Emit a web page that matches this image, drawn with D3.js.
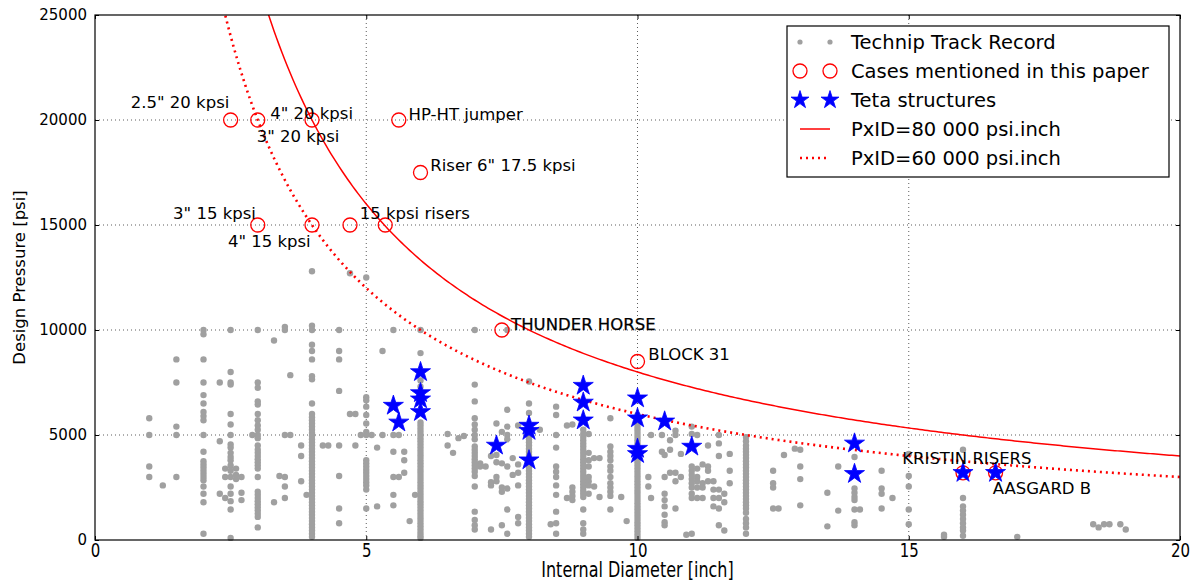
<!DOCTYPE html>
<html>
<head>
<meta charset="utf-8">
<script src="https://d3js.org/d3.v7.min.js"></script>
<style>
  body { margin: 0; background: #fff; }
  text { font-family: "DejaVu Sans", sans-serif; }
</style>
</head>
<body>
<div id="chart"></div>
<script>
// technip track record, grouped by internal diameter [inch] -> design pressures [psi]
var trackColumns = [
  [1.0, [5800, 5000, 3500, 3000]],
  [1.25, [2600]],
  [1.5, [8600, 7500, 5400, 5000, 3000]],
  [2.0, [10000, 9800, 8600, 7500, 6900, 6500, 6100, 5900, 5700, 5000, 4200, 3750, 3600, 3450, 3300, 3150, 3000, 2850, 2550, 2200, 1800, 300]],
  [2.3, [7500, 4700, 2200]],
  [2.4, [3400, 3000, 2000]],
  [2.5, [10000, 8000, 7500, 7400, 6000, 5500, 5000, 4550, 4400, 4150, 3950, 3800, 3550, 3300, 3000, 2550, 2200, 1850, 1450, 100]],
  [2.6, [3400, 3100, 2900]],
  [2.7, [3000, 2250, 1900]],
  [2.9, [5000]],
  [3.0, [10000, 7500, 7250, 6600, 6450, 6000, 5700, 5450, 5250, 5000, 4850, 4500, 4300, 4150, 4000, 3850, 3700, 3550, 3400, 3000, 2300, 2150, 2000, 1850, 1700, 1550, 1400, 1250, 1100, 600]],
  [3.3, [9500, 1800]],
  [3.4, [3050]],
  [3.5, [10150, 10000, 5000, 3000, 2550, 2000]],
  [3.6, [7850, 5000]],
  [3.8, [4500, 4000, 2800]],
  [3.9, [2150]],
  [4.0, [12800, 10200, 10000, 9300, 9000, 8600, 7800, 7650, 6500, 6000, 5850, 5700, 5550, 5400, 5250, 5100, 4950, 4800, 4650, 4500, 4350, 4200, 4050, 3900, 3750, 3600, 3450, 3300, 3150, 3000, 2850, 2700, 2550, 2400, 2250, 2100, 1950, 1800, 1650, 1500, 1350, 1200, 1050, 900, 750, 600, 450, 300, 150]],
  [4.2, [4500]],
  [4.3, [4500]],
  [4.5, [10000, 9000, 8600, 7100, 4500, 3050, 1500, 800]],
  [4.7, [12700, 6000]],
  [4.8, [6000, 4500]],
  [4.9, [5000]],
  [5.0, [12500, 6800, 6650, 6350, 5950, 5550, 5150, 5000, 3800, 3650, 3500, 3350, 3200, 3050, 2900, 2750, 2600, 2400, 1500]],
  [5.1, [5000]],
  [5.2, [4400, 1600]],
  [5.3, [9000, 5000]],
  [5.5, [10000, 5000, 4200, 3000, 2150, 1650]],
  [5.6, [5000, 3000]],
  [5.7, [4200, 3800, 3200]],
  [5.8, [900]],
  [5.9, [2150]],
  [6.0, [10000, 8900, 7600, 7300, 5600, 5450, 5300, 5150, 5000, 4850, 4700, 4550, 4400, 4250, 4100, 3950, 3800, 3650, 3500, 3350, 3200, 3050, 2900, 2750, 2600, 2450, 2300, 2150, 2000, 1850, 1700, 1550, 1400, 1250, 1100, 950, 800, 650, 500, 350, 200, 100]],
  [6.5, [5050, 4500]],
  [6.6, [4150]],
  [6.7, [4850]],
  [6.8, [4950]],
  [7.0, [10000, 7400, 6600, 5800, 5500, 5250, 5000, 4800, 4450, 4300, 4150, 4000, 3850, 3700, 3550, 3400, 3250, 3050, 2550, 1350, 950, 700, 500]],
  [7.1, [3650, 3500]],
  [7.2, [3500]],
  [7.3, [4000, 2750, 2600, 500]],
  [7.4, [5550, 4050, 3700, 3000, 2800]],
  [7.5, [5150, 3650, 2500, 2300, 700]],
  [7.6, [10000, 6200, 5400, 5000, 4800, 3500, 2450, 1450, 300]],
  [7.7, [3900, 3100]],
  [7.8, [5450, 3600, 3200, 2600, 1100, 800]],
  [8.0, [7550, 6500, 6050, 5250, 5100, 4950, 4800, 4650, 4500, 4350, 4200, 4050, 3900, 3750, 3600, 3450, 3300, 3150, 3000, 2850, 2700, 2550, 2400, 2250, 2100, 1950, 1800, 1650, 1500, 1350, 1200, 1050, 900, 750, 600, 450, 300, 150]],
  [8.2, [5250]],
  [8.4, [750]],
  [8.5, [6350, 5950, 5000, 4400, 3500, 3250, 3000, 2600, 2150, 1350, 800, 300]],
  [8.7, [5450, 2000]],
  [8.8, [5500, 2500, 2300, 2100, 1900]],
  [9.0, [5250, 5050, 4900, 4750, 4600, 4450, 4300, 4150, 4000, 3850, 3700, 3550, 3400, 3250, 3100, 2950, 2800, 2650, 2500, 2350, 2200, 2050, 1450, 800, 500, 300]],
  [9.1, [5050, 4150, 3800, 3500, 3000, 2800, 2600, 2200]],
  [9.2, [3900, 2550]],
  [9.3, [3900, 2050]],
  [9.5, [5800, 4450, 4200, 4000, 3800, 3500, 3300, 3000, 2700, 2500, 2300, 2100, 1450]],
  [9.7, [2050]],
  [9.8, [900]],
  [10.0, [5950, 5500, 5350, 5200, 5050, 4900, 4750, 4600, 4450, 4300, 4150, 4000, 3850, 3700, 3550, 3400, 3250, 3100, 2950, 2800, 2650, 2500, 2350, 2200, 2050, 1900, 1750, 1600, 1450, 1300, 1150, 1000, 850, 700, 550, 400, 250, 100]],
  [10.2, [3000, 2550]],
  [10.25, [5000, 2000]],
  [10.45, [5000, 4200]],
  [10.5, [4050, 3000, 2200, 1900, 1600, 1200, 850, 700]],
  [10.6, [4750, 4300, 3200]],
  [10.7, [5200, 5000, 3200, 2800, 1500]],
  [10.8, [4100, 3000]],
  [10.9, [250]],
  [11.0, [5400, 5050, 3500, 3300, 3100, 2900, 2700, 2500, 2200, 2000, 300]],
  [11.1, [5000, 3400, 3000, 2800, 2500, 2000]],
  [11.2, [3600, 2700, 2500, 2000]],
  [11.3, [4500, 3500, 3300, 2800]],
  [11.4, [2800, 2400, 2000, 1600]],
  [11.5, [5000, 4600, 4000, 2400, 2000, 1500, 700]],
  [11.6, [2200, 1800, 450]],
  [11.7, [4100, 3300, 2700]],
  [12.0, [4900, 4700, 4500, 4350, 4200, 4050, 3900, 3750, 3600, 3450, 3300, 3150, 3000, 2850, 2700, 2550, 2400, 2250, 2100, 1950, 1800, 1650, 1500, 1300, 1000, 800, 600, 300]],
  [12.5, [3300, 2700, 2500, 1500]],
  [12.6, [1500]],
  [12.7, [4050]],
  [12.9, [4350]],
  [13.0, [4300, 3500, 2900, 1650]],
  [13.5, [2250, 650]],
  [13.7, [3500, 1400]],
  [14.0, [3950, 2450, 2250, 2050, 1900, 1450, 850, 700]],
  [14.1, [1450]],
  [14.5, [3300, 2450, 2200, 1500]],
  [14.7, [2000]],
  [15.0, [4100, 3050, 2550, 1450, 750]],
  [15.65, [150, 250]],
  [16.0, [4300, 2000, 1600, 1400, 1200, 1000, 800, 600, 450, 200]],
  [17.0, [150]],
  [18.4, [750]],
  [18.5, [600]],
  [18.6, [750]],
  [18.7, [750]],
  [18.9, [750]],
  [19.0, [500]]
];

// cases mentioned in this paper
var caseD = [2.5, 3, 4, 5.6, 6, 3, 4, 4.7, 5.35, 7.5, 10, 16, 16.6];
var caseP = [20000, 20000, 20000, 20000, 17500, 15000, 15000, 15000, 15000, 10000, 8500, 3200, 3200];

// teta structures
var tetaD = [5.5, 5.6, 6, 6, 6, 6, 7.4, 8, 8, 8, 9, 9, 9, 10, 10, 10, 10, 10.5, 11, 14, 14, 16, 16.6];
var tetaP = [6400, 5600, 8000, 7000, 6700, 6100, 4500, 5450, 5200, 3800, 7350, 6550, 5700, 6750, 5800, 4350, 4100, 5650, 4450, 4600, 3150, 3200, 3200];

// annotation texts with label anchor in data coords
var noteText = ['2.5" 20 kpsi', '4" 20 kpsi', '3" 20 kpsi', 'HP-HT jumper', 'Riser 6" 17.5 kpsi', '3" 15 kpsi', '4" 15 kpsi', '15 kpsi risers', 'THUNDER HORSE', 'BLOCK 31', 'KRISTIN RISERS', 'AASGARD B'];
var noteD = [0.66, 3.23, 2.98, 5.78, 6.18, 1.44, 2.45, 4.88, 7.67, 10.2, 14.88, 16.55];
var noteP = [20550, 20050, 18950, 20000, 17550, 15300, 13930, 15300, 10000, 8570, 3620, 2190];

var xTicks = [0, 5, 10, 15, 20];
var yTicks = [0, 5000, 10000, 15000, 20000, 25000];
var curveConst = [80000, 60000];
var legendLabels = ["Technip Track Record", "Cases mentioned in this paper", "Teta structures", "PxID=80 000 psi.inch", "PxID=60 000 psi.inch"];

function drawChart() {
  var w = 1194, h = 584;
  var left = 95, right = 1180, top = 15, bottom = 540;

  var svg = d3.select("#chart").append("svg")
    .attr("width", w).attr("height", h);

  var x = d3.scaleLinear().domain([0, 20]).range([left, right]);
  var y = d3.scaleLinear().domain([0, 25000]).range([bottom, top]);

  // grid
  svg.append("g").selectAll("line").data(xTicks.slice(1, -1)).enter().append("line")
    .attr("x1", function(d) { return x(d); }).attr("x2", function(d) { return x(d); })
    .attr("y1", top).attr("y2", bottom)
    .attr("stroke", "#333").attr("stroke-width", 0.8).attr("stroke-dasharray", "1,3");
  svg.append("g").selectAll("line").data(yTicks.slice(1, -1)).enter().append("line")
    .attr("y1", function(d) { return y(d); }).attr("y2", function(d) { return y(d); })
    .attr("x1", left).attr("x2", right)
    .attr("stroke", "#333").attr("stroke-width", 0.8).attr("stroke-dasharray", "1,3");

  // track record dots
  var pts = [];
  trackColumns.forEach(function(c) {
    c[1].forEach(function(p) { pts.push([c[0], p]); });
  });
  svg.append("g").selectAll("circle").data(pts).enter().append("circle")
    .attr("cx", function(d) { return x(d[0]); })
    .attr("cy", function(d) { return y(d[1]); })
    .attr("r", 3.2)
    .attr("fill", "#a0a0a0");

  // PxID curves
  var clip = svg.append("clipPath").attr("id", "plotclip").append("rect")
    .attr("x", left).attr("y", top).attr("width", right - left).attr("height", bottom - top);
  var dgrid = d3.range(2, 20.01, 0.05);
  var line = d3.line().x(function(d) { return x(d[0]); }).y(function(d) { return y(d[1]); });
  curveConst.forEach(function(k, i) {
    svg.append("path")
      .attr("d", line(dgrid.map(function(dd) { return [dd, k / dd]; })))
      .attr("clip-path", "url(#plotclip)")
      .attr("fill", "none").attr("stroke", "#ff0000")
      .attr("stroke-width", i == 0 ? 1.5 : 2.6)
      .attr("stroke-dasharray", i == 0 ? null : "2,4");
  });

  // cases
  svg.append("g").selectAll("circle").data(caseD).enter().append("circle")
    .attr("cx", function(d) { return x(d); })
    .attr("cy", function(d, i) { return y(caseP[i]); })
    .attr("r", 7)
    .attr("fill", "none").attr("stroke", "#ff0000").attr("stroke-width", 1.3);

  // teta stars
  var star = d3.symbol().type(d3.symbolStar).size(125);
  svg.append("g").selectAll("path").data(tetaD).enter().append("path")
    .attr("d", star)
    .attr("transform", function(d, i) { return "translate(" + x(d) + "," + y(tetaP[i]) + ")"; })
    .attr("fill", "#0000ff").attr("stroke", "#0000ff").attr("stroke-width", 0.8);

  // annotations
  svg.append("g").selectAll("text").data(noteText).enter().append("text")
    .attr("x", function(d, i) { return x(noteD[i]); })
    .attr("y", function(d, i) { return y(noteP[i]); })
    .attr("font-size", "16.5px")
    .attr("fill", "#000")
    .attr("stroke", function(d) { return d == "THUNDER HORSE" ? "#000" : null; })
    .attr("stroke-width", 0.25)
    .text(function(d) { return d; });

  // frame
  svg.append("rect").attr("x", left).attr("y", top)
    .attr("width", right - left).attr("height", bottom - top)
    .attr("fill", "none").attr("stroke", "#000").attr("stroke-width", 1.2);

  // axes, ticks inward
  var xAxis = svg.append("g").attr("transform", "translate(0," + bottom + ")")
    .call(d3.axisBottom(x).tickValues(xTicks).tickSize(-4).tickPadding(2.5).tickFormat(d3.format("d")));
  xAxis.selectAll("text").attr("font-size", "15px").attr("font-family", "DejaVu Sans")
    .attr("fill", "#000").attr("transform", "scale(1,1.3)");
  svg.append("g").attr("transform", "translate(0," + top + ")")
    .call(d3.axisTop(x).tickValues(xTicks).tickSize(-4).tickFormat(""));
  var yAxis = svg.append("g").attr("transform", "translate(" + left + ",0)")
    .call(d3.axisLeft(y).tickValues(yTicks).tickSize(-4).tickPadding(8).tickFormat(d3.format("d")));
  yAxis.selectAll("text").attr("font-size", "15px").attr("font-family", "DejaVu Sans").attr("fill", "#000");
  svg.append("g").attr("transform", "translate(" + right + ",0)")
    .call(d3.axisRight(y).tickValues(yTicks).tickSize(-4).tickFormat(""));
  svg.selectAll(".domain").remove();
  svg.selectAll(".tick line").attr("stroke", "#000").attr("stroke-width", 1);

  // axis titles
  svg.append("text")
    .attr("x", (left + right) / 2).attr("y", 0)
    .attr("transform", "translate(0,577) scale(1,1.3)")
    .attr("text-anchor", "middle").attr("font-size", "16px")
    .text("Internal Diameter [inch]");
  svg.append("text")
    .attr("transform", "translate(25," + ((top + bottom) / 2) + ") rotate(-90)")
    .attr("text-anchor", "middle").attr("font-size", "16.5px")
    .text("Design Pressure [psi]");

  // legend
  var lg = svg.append("g");
  lg.append("rect").attr("x", 787).attr("y", 26).attr("width", 382).attr("height", 151)
    .attr("fill", "#fff").attr("stroke", "#000").attr("stroke-width", 1.2);
  var rowY = function(i) { return 42 + i * 29; };
  [800, 830].forEach(function(mx) {
    lg.append("circle").attr("cx", mx).attr("cy", rowY(0)).attr("r", 2.6).attr("fill", "#a0a0a0");
    lg.append("circle").attr("cx", mx).attr("cy", rowY(1)).attr("r", 7)
      .attr("fill", "none").attr("stroke", "#ff0000").attr("stroke-width", 1.3);
    lg.append("path").attr("d", d3.symbol().type(d3.symbolStar).size(100))
      .attr("transform", "translate(" + mx + "," + rowY(2) + ")")
      .attr("fill", "#0000ff").attr("stroke", "#0000ff").attr("stroke-width", 0.8);
  });
  lg.append("line").attr("x1", 800).attr("x2", 830).attr("y1", rowY(3)).attr("y2", rowY(3))
    .attr("stroke", "#ff0000").attr("stroke-width", 1.5);
  lg.append("line").attr("x1", 800).attr("x2", 830).attr("y1", rowY(4)).attr("y2", rowY(4))
    .attr("stroke", "#ff0000").attr("stroke-width", 2.6).attr("stroke-dasharray", "2,4");
  lg.selectAll("text.lab").data(legendLabels).enter().append("text")
    .attr("class", "lab")
    .attr("x", 851)
    .attr("y", function(d, i) { return rowY(i) + 7; })
    .attr("font-size", "19.5px")
    .text(function(d) { return d; });
}

setChart = drawChart;
setChart();
</script>
</body>
</html>
